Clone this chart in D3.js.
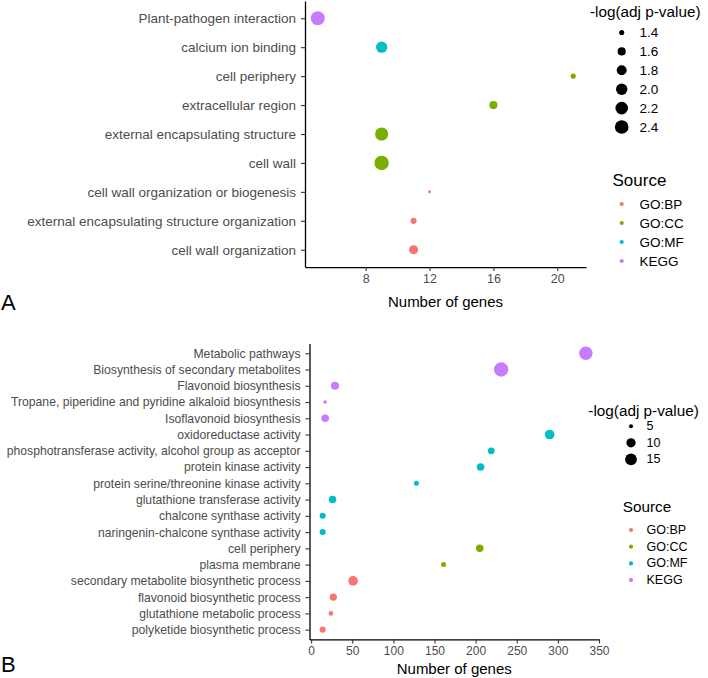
<!DOCTYPE html>
<html>
<head>
<meta charset="utf-8">
<title>Enrichment dot plots</title>
<script src="https://d3js.org/d3.v7.min.js"></script>
<style>
  body { margin: 0; background: #fff; }
  svg text { font-family: "Liberation Sans", Arial, sans-serif; }
</style>
</head>
<body>
<div id="chart"></div>
<script>
// ---- panel A data (top to bottom) ----
var termsA = ["Plant-pathogen interaction", "calcium ion binding", "cell periphery",
  "extracellular region", "external encapsulating structure", "cell wall",
  "cell wall organization or biogenesis", "external encapsulating structure organization",
  "cell wall organization"];
var genesA = [5, 9, 21, 16, 9, 9, 12, 11, 11];
var pvalA = [2.45, 1.98, 1.4, 1.6, 2.3, 2.54, 1.36, 1.45, 1.71];
var sourceA = ["KEGG", "GO:MF", "GO:CC", "GO:CC", "GO:CC", "GO:CC", "GO:BP", "GO:BP", "GO:BP"];
var xTicksA = [8, 12, 16, 20];
var sizeBreaksA = [1.4, 1.6, 1.8, 2.0, 2.2, 2.4];

// ---- panel B data (top to bottom) ----
var termsB = ["Metabolic pathways", "Biosynthesis of secondary metabolites", "Flavonoid biosynthesis",
  "Tropane, piperidine and pyridine alkaloid biosynthesis", "Isoflavonoid biosynthesis",
  "oxidoreductase activity", "phosphotransferase activity, alcohol group as acceptor",
  "protein kinase activity", "protein serine/threonine kinase activity",
  "glutathione transferase activity", "chalcone synthase activity",
  "naringenin-chalcone synthase activity", "cell periphery", "plasma membrane",
  "secondary metabolite biosynthetic process", "flavonoid biosynthetic process",
  "glutathione metabolic process", "polyketide biosynthetic process"];
var genesB = [334, 231, 29, 17, 17, 290, 219, 206, 128, 26, 14, 14, 205, 161, 51, 27, 24, 14];
var pvalB = [19.1, 22, 8.4, 4.9, 7.6, 10.7, 6.7, 7.6, 5.4, 7.6, 6.1, 6.1, 7.6, 5.4, 10.7, 7.1, 5.2, 6.1];
var sourceB = ["KEGG", "KEGG", "KEGG", "KEGG", "KEGG", "GO:MF", "GO:MF", "GO:MF", "GO:MF",
  "GO:MF", "GO:MF", "GO:MF", "GO:CC", "GO:CC", "GO:BP", "GO:BP", "GO:BP", "GO:BP"];
var xTicksB = [0, 50, 100, 150, 200, 250, 300, 350];
var sizeBreaksB = [5, 10, 15];

var sources = ["GO:BP", "GO:CC", "GO:MF", "KEGG"];
var colors = ["#F8766D", "#7CAE00", "#00BFC4", "#C77CFF"];
var color = d3.scaleOrdinal().domain(sources).range(colors);

var svg = d3.select("#chart").append("svg")
  .attr("width", 708)
  .attr("height", 678);

// ggplot-like area size scale
function sizeScale(lo, hi, rmin, rmax) {
  return function(v) {
    var t = Math.max(0, Math.min(1, (v - lo) / (hi - lo)));
    return rmin + (rmax - rmin) * Math.sqrt(t);
  };
}

function drawPanel(opt) {
  var data = opt.terms.map(function(t, i) {
    return { term: t, genes: opt.genes[i], p: opt.pval[i], source: opt.source[i] };
  });
  var ext = d3.extent(opt.genes);
  var pad = (ext[1] - ext[0]) * 0.05;
  var x = d3.scaleLinear().domain([ext[0] - pad, ext[1] + pad]).range([opt.left, opt.right]);
  var y = d3.scalePoint().domain(opt.terms).range([opt.top, opt.bottom]).padding(0.6);
  var r = sizeScale(opt.pmin, opt.pmax, 1.5, 7.2);

  var g = svg.append("g");

  // points
  g.selectAll("circle.dot")
    .data(data)
    .enter().append("circle")
      .attr("class", "dot")
      .attr("cx", function(d) { return x(d.genes); })
      .attr("cy", function(d) { return y(d.term); })
      .attr("r", function(d) { return r(d.p); })
      .attr("fill", function(d) { return color(d.source); });

  // y axis
  var ya = g.append("g")
    .attr("transform", "translate(" + opt.left + ",0)")
    .call(d3.axisLeft(y).tickSize(4).tickSizeOuter(0).tickPadding(5));
  ya.selectAll("text").attr("fill", "#4D4D4D").style("font-size", opt.yFont + "px");

  // x axis
  var xa = g.append("g")
    .attr("transform", "translate(0," + opt.bottom + ")")
    .call(d3.axisBottom(x).tickValues(opt.xTicks).tickSize(4).tickSizeOuter(0).tickPadding(3));
  xa.selectAll("text").attr("fill", "#4D4D4D").style("font-size", opt.xFont + "px");

  [ya, xa].forEach(function(a) {
    a.select(".domain").attr("stroke", "#000").attr("stroke-width", 1.3);
    a.selectAll(".tick line").attr("stroke", "#333").attr("stroke-width", 1.1);
  });

  // x title
  g.append("text")
    .attr("x", (opt.left + opt.right) / 2)
    .attr("y", opt.titleY)
    .attr("text-anchor", "middle")
    .attr("dominant-baseline", "central")
    .style("font-size", "15px")
    .text("Number of genes");

  // panel letter
  g.append("text")
    .attr("x", 1)
    .attr("y", opt.letterY)
    .style("font-size", "22px")
    .text(opt.letter);

  // size legend
  var lg = g.append("g");
  lg.append("text")
    .attr("x", opt.legX)
    .attr("y", opt.sizeTitleY)
    .attr("dominant-baseline", "central")
    .style("font-size", "15.3px")
    .text("-log(adj p-value)");
  opt.sizeBreaks.forEach(function(b, i) {
    var cy = opt.sizeTitleY + opt.sizeFirst + i * opt.sizeStep;
    lg.append("circle")
      .attr("cx", opt.dotX).attr("cy", cy)
      .attr("r", r(b)).attr("fill", "#000");
    lg.append("text")
      .attr("x", opt.labX).attr("y", cy)
      .attr("dominant-baseline", "central")
      .style("font-size", opt.legFont + "px")
      .text(opt.sizeFmt(b));
  });

  // colour legend
  lg.append("text")
    .attr("x", opt.srcTitleX)
    .attr("y", opt.srcTitleY)
    .attr("dominant-baseline", "central")
    .style("font-size", opt.srcFont + "px")
    .text("Source");
  sources.forEach(function(s, i) {
    var cy = opt.srcTitleY + opt.srcFirst + i * opt.srcStep;
    lg.append("circle")
      .attr("cx", opt.dotX).attr("cy", cy)
      .attr("r", 2.1).attr("fill", color(s));
    lg.append("text")
      .attr("x", opt.labX).attr("y", cy)
      .attr("dominant-baseline", "central")
      .style("font-size", opt.legFont + "px")
      .text(s);
  });
}

drawPanel({
  terms: termsA, genes: genesA, pval: pvalA, source: sourceA,
  xTicks: xTicksA, sizeBreaks: sizeBreaksA, pmin: 1.36, pmax: 2.54,
  sizeFmt: d3.format(".1f"),
  left: 305, right: 586, top: 0.9, bottom: 267.1,
  yFont: 13.5, xFont: 12.5, titleY: 301, letter: "A", letterY: 310,
  legX: 590, sizeTitleY: 11, sizeFirst: 21.5, sizeStep: 18.9,
  dotX: 621.7, labX: 639.5, legFont: 13.5,
  srcTitleX: 612.5, srcTitleY: 180, srcFont: 17, srcFirst: 24, srcStep: 19
});

drawPanel({
  terms: termsB, genes: genesB, pval: pvalB, source: sourceB,
  xTicks: xTicksB, sizeBreaks: sizeBreaksB, pmin: 4.86, pmax: 22,
  sizeFmt: d3.format("d"),
  left: 309.5, right: 599, top: 343.5, bottom: 639.4,
  yFont: 12.2, xFont: 12, titleY: 668, letter: "B", letterY: 672,
  legX: 588.3, sizeTitleY: 410.7, sizeFirst: 15.5, sizeStep: 16.6,
  dotX: 631, labX: 646.5, legFont: 12.5,
  srcTitleX: 622.7, srcTitleY: 506.7, srcFont: 15.3, srcFirst: 23.3, srcStep: 16.7
});
</script>
</body>
</html>
